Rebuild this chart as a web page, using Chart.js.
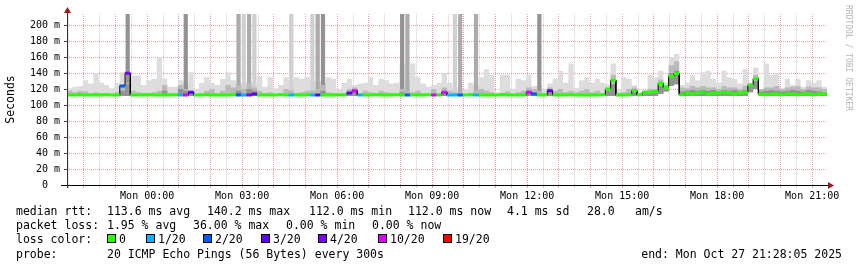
<!DOCTYPE html>
<html>
<head>
<meta charset="utf-8">
<script src="https://cdn.jsdelivr.net/npm/chart.js@4/dist/chart.umd.min.js"></script>
<style>
  html, body { margin: 0; padding: 0; background: #fff; }
  canvas { display: block; }
</style>
</head>
<body>
<canvas id="smoke_graph" width="857" height="267"></canvas>
<script>
// 24 hours of 10 minute bins, last one ending Mon Oct 27 21:28:05 2025
const START_MIN = 21 * 60 + 28 + 5 / 60;   // minutes after midnight (Sunday) of the first bin
const BIN_MIN = 10;

// median rtt per bin (ms)
const median = [
  112.5,112.5,113,112.5,112.5,112.5,112.5,113,112.5,112.5,124,140,
  112.5,112.5,112.5,113,112.5,112.5,112.5,112.5,113,112.5,112.5,116,
  112.5,112.5,113,112.5,112.5,112.5,112.5,113,112.5,112.5,112.5,114,
  112.5,112.5,112.5,112.5,113,112.5,112.5,112.5,112.5,113,112.5,112.5,
  112.5,112.5,112.5,113,112.5,115,118,112.5,112.5,112.5,113,112.5,
  112.5,112.5,113,112.5,112.5,112.5,112.5,112.5,113,112.5,112.5,116,
  112.5,112.5,112.5,112.5,113,112.5,112.5,112.5,112.5,112.5,113,112.5,
  112.5,112.5,112.5,116,114,112.5,112.5,118,112.5,112.5,112.5,113,
  112.5,112.5,112.5,112.5,112.5,113,120,131,112.5,112.5,113,118,
  113,116,116,117,127,122,136,139.5,113,115,114,115,
  116,114,115,115,116,115,114,115,116,125,133,114,
  113,114,114,113,114,114,113,114,114,113,114,114
];

// loss class per bin, index into lossLabels
const loss = [
  0,0,0,0,0,0,0,0,0,0,2,4,
  0,0,0,0,0,0,0,0,0,1,5,3,
  0,0,0,0,0,0,0,0,2,1,4,3,
  0,0,0,0,0,0,1,0,0,0,1,3,
  0,0,0,0,0,3,5,1,0,0,0,0,
  0,0,0,0,2,0,0,0,0,5,0,5,
  1,1,2,0,0,1,0,0,0,0,0,0,
  0,0,0,5,2,0,0,3,0,0,0,0,
  0,0,0,0,0,0,0,0,0,0,0,0,
  0,0,0,0,0,0,0,0,0,0,0,0,
  0,0,0,0,0,0,0,0,0,0,0,0,
  0,0,0,0,0,0,0,0,0,0,0,0
];

// fastest ping per bin (ms)
const pingMin = [
  111.5,111.5,111.5,111.5,111.5,111.5,111.5,111.5,111.5,111.5,111.5,111.5,
  111.5,111.5,111.5,111.5,111.5,111.5,111.5,111.5,111.5,111.5,111.5,111.5,
  111.5,111.5,111.5,111.5,111.5,111.5,111.5,111.5,111.5,111.5,111.5,111.5,
  111.5,111.5,111.5,111.5,111.5,111.5,111.5,111.5,111.5,111.5,111.5,111.5,
  111.5,111.5,111.5,111.5,111.5,111.5,111.5,111.5,111.5,111.5,111.5,111.5,
  111.5,111.5,111.5,111.5,111.5,111.5,111.5,111.5,111.5,111.5,111.5,111.5,
  111.5,111.5,111.5,111.5,111.5,111.5,111.5,111.5,111.5,111.5,111.5,111.5,
  111.5,111.5,111.5,111.5,111.5,111.5,111.5,111.5,111.5,111.5,111.5,111.5,
  111.5,111.5,111.5,111.5,111.5,111.5,111.5,111.5,111.5,111.5,111.5,111.5,
  111.5,111.5,111.5,111.5,114,117,124,126,111.5,111.5,111.5,111.5,
  111.5,111.5,111.5,111.5,111.5,111.5,111.5,111.5,111.5,116,120,111.5,
  111.5,111.5,111.5,111.5,111.5,111.5,111.5,111.5,111.5,111.5,111.5,111.5
];

// dense smoke (most pings below this, ms)
const smokeDark = [
  114,111.5,111.5,111.5,111.5,111.5,111.5,111.5,111.5,111.5,118,126,
  111.5,111.5,111.5,111.5,111.5,111.5,118,111.5,111.5,120,118,117,
  111.5,111.5,111.5,111.5,111.5,111.5,111.5,111.5,118,114,120,118,
  114,111.5,111.5,111.5,111.5,111.5,111.5,111.5,111.5,111.5,111.5,114,
  118,111.5,111.5,111.5,111.5,116,118,111.5,111.5,111.5,111.5,111.5,
  111.5,111.5,111.5,116,114,111.5,111.5,111.5,111.5,114,111.5,117,
  114,111.5,114,111.5,111.5,111.5,111.5,111.5,111.5,111.5,111.5,111.5,
  111.5,111.5,111.5,118,116,114,111.5,118,111.5,111.5,111.5,111.5,
  111.5,111.5,111.5,111.5,111.5,111.5,118,126,111.5,111.5,111.5,118,
  113,116,116,116,124,121,140,143,117,118,119,118,
  119,118,119,117,119,118,119,117,119,124,130,117,
  118,119,118,117,118,119,118,117,119,118,117,116
];

// middle smoke (ms)
const smokeMid = [
  118,116,118,117,115,116,115,115,114,116,125,128,
  118,116,115,115,116,118,125,115,114,125,120,118,
  114,115,118,120,115,118,125,122,125,120,128,122,
  118,115,116,114,115,120,118,115,116,118,118,120,
  125,116,115,114,115,120,122,115,118,116,115,118,
  116,115,115,120,118,116,118,115,114,120,115,122,
  118,116,116,114,115,118,120,118,116,114,115,117,
  114,116,118,122,120,118,115,122,118,120,116,118,
  116,118,120,116,118,115,122,138,115,116,120,122,
  115,118,120,120,132,125,150,155,122,121,124,122,
  124,122,122,120,124,122,122,120,124,127,138,120,
  122,122,124,120,122,123,124,120,123,122,122,120
];

// slowest ping per bin, off-scale pings listed below (ms)
const smokeTop = [
  121,123,124,131,127,140,128,125,121,128,141,133,
  137,137,125,131,133,160,133,123,123,131,128,141,
  120,128,135,128,125,133,141,131,128,127,128,125,
  137,123,135,121,125,135,130,135,133,135,130,130,
  130,135,133,120,128,133,125,127,128,135,125,133,
  131,127,128,150,130,152,135,127,123,125,128,140,
  128,122,122,120,128,125,135,145,138,116,138,138,
  120,133,131,138,124,125,120,127,133,143,128,152,
  121,131,135,128,133,128,126,152,120,135,133,125,
  116,118,138,135,143,128,160,164,125,128,138,131,
  141,143,133,128,143,135,133,127,145,128,147,120,
  152,138,140,121,133,125,133,123,131,128,131,123
];

// bins where 1, 2 or 3 pings went off the scale
const spikes1 = [33, 35, 42, 46, 73];
const spikes2 = [32, 34, 47, 64, 74, 77];
const spikes3 = [11, 22, 48, 63, 89];
const spikeRtt = 250;

const lossLabels = ['0', '1/20', '2/20', '3/20', '4/20', '10/20', '19/20'];
const lossColors = ['#26ff00', '#00b8ff', '#0059ff', '#5e00ff', '#7e00ff', '#dd00ff', '#ff0000'];

const yTicks = [0, 10, 20, 30, 40, 50, 60, 70, 80, 90, 100, 110, 120, 130, 140, 150, 160, 170, 180, 190, 200, 210];
const xLabelTimes = ['00:00', '03:00', '06:00', '09:00', '12:00', '15:00', '18:00', '21:00'];
const dayName = 'Mon';

const rttStats = ['113.6 ms avg', '140.2 ms max', '112.0 ms min', '112.0 ms now', '4.1 ms sd', '28.0', 'am/s'];
const lossStats = ['1.95 % avg', '36.00 % max', '0.00 % min', '0.00 % now'];
const probeText = '20 ICMP Echo Pings (56 Bytes) every 300s';
const endText = 'end: Mon Oct 27 21:28:05 2025';

const MONO = '"DejaVu Sans Mono"';
const RED_GRID = '#e4a2a2';
const GRAY_GRID = '#cdcdcd';

function steps(values) {
  const pts = [];
  values.forEach((v, i) => { pts.push({x: i, y: v}, {x: i + 1, y: v}); });
  return pts;
}

function lossSteps(k) {
  const pts = [];
  median.forEach((v, i) => {
    if (loss[i] === k) pts.push({x: i, y: v}, {x: i + 1, y: v}, {x: i + 1, y: null});
  });
  return pts;
}

function binToMinutes(v) {
  return Math.round(START_MIN + v * BIN_MIN);
}

function xTickValues() {
  const vals = [];
  for (let t = Math.ceil(START_MIN / 30) * 30; t <= START_MIN + median.length * BIN_MIN; t += 30) {
    vals.push((t - START_MIN) / BIN_MIN);
  }
  return vals;
}

function xLabel(v) {
  const t = binToMinutes(v);
  if (t < 1440) return '';
  const m = t % 1440;
  const s = String(Math.floor(m / 60)).padStart(2, '0') + ':' + String(m % 60).padStart(2, '0');
  return xLabelTimes.includes(s) ? dayName + ' ' + s : '';
}

// build datasets
const datasets = [];
lossColors.forEach((c, k) => {
  datasets.push({type: 'line', data: lossSteps(k), borderColor: c, borderWidth: 3,
    borderCapStyle: 'butt', pointRadius: 0, fill: false, order: 0});
});
datasets.push({type: 'line', data: steps(median), borderColor: '#000', borderWidth: 1,
  pointRadius: 0, fill: false, order: 1});

const floorIndex = datasets.length;
datasets.push({type: 'line', data: steps(pingMin), borderWidth: 0, borderColor: 'rgba(0,0,0,0)',
  pointRadius: 0, fill: false, order: 7});

datasets.push({type: 'line', data: steps(smokeDark), borderWidth: 0, pointRadius: 0,
  backgroundColor: '#939393', fill: {target: floorIndex}, order: 2});
datasets.push({type: 'line', data: steps(smokeMid), borderWidth: 0, pointRadius: 0,
  backgroundColor: '#bababa', fill: {target: floorIndex}, order: 3});

const spikeData = [];
const spikeColors = [];
[[spikes1, '#d0d0d0'], [spikes2, '#ababab'], [spikes3, '#939393']].forEach(([bins, col]) => {
  bins.forEach(b => {
    spikeData.push({x: b + 0.5, y: [pingMin[b], spikeRtt]});
    spikeColors.push(col);
  });
});
datasets.push({type: 'bar', data: spikeData, backgroundColor: spikeColors, borderWidth: 0,
  grouped: false, barPercentage: 0.8, categoryPercentage: 1, order: 4});

datasets.push({type: 'line', data: steps(smokeTop), borderWidth: 0, pointRadius: 0,
  backgroundColor: '#dddddd', fill: {target: floorIndex}, order: 5});

// axes, arrows, legend and the side text
const rrdDecor = {
  id: 'rrdDecor',
  afterDraw(chart) {
    const ctx = chart.ctx;
    const a = chart.chartArea;
    ctx.save();

    ctx.lineWidth = 1;
    ctx.strokeStyle = '#000';
    ctx.beginPath();
    ctx.moveTo(a.left - 6, a.bottom + 0.5);
    ctx.lineTo(a.right + 2, a.bottom + 0.5);
    ctx.stroke();
    ctx.strokeStyle = '#333';
    ctx.beginPath();
    ctx.moveTo(a.left + 0.5, a.bottom + 3);
    ctx.lineTo(a.left + 0.5, a.top - 3);
    ctx.stroke();

    ctx.fillStyle = '#a01818';
    ctx.beginPath();
    ctx.moveTo(a.right + 1, a.bottom - 3);
    ctx.lineTo(a.right + 7, a.bottom + 0.5);
    ctx.lineTo(a.right + 1, a.bottom + 4);
    ctx.closePath();
    ctx.fill();
    ctx.beginPath();
    ctx.moveTo(a.left - 3, a.top - 1);
    ctx.lineTo(a.left + 0.5, a.top - 7);
    ctx.lineTo(a.left + 4, a.top - 1);
    ctx.closePath();
    ctx.fill();

    // y axis title
    ctx.fillStyle = '#000';
    ctx.font = '11.5px ' + MONO;
    ctx.save();
    ctx.translate(11, (a.top + a.bottom) / 2);
    ctx.rotate(-Math.PI / 2);
    ctx.textAlign = 'center';
    ctx.textBaseline = 'middle';
    ctx.fillText('Seconds', 0, 0);
    ctx.restore();

    // watermark
    ctx.save();
    ctx.translate(848, 5);
    ctx.rotate(Math.PI / 2);
    ctx.font = '8px ' + MONO;
    ctx.fillStyle = '#b4b4b4';
    ctx.textAlign = 'left';
    ctx.textBaseline = 'middle';
    ctx.fillText('RRDTOOL / TOBI OETIKER', 0, 0);
    ctx.restore();

    // legend lines
    ctx.font = '11.5px ' + MONO;
    ctx.textAlign = 'left';
    ctx.textBaseline = 'alphabetic';
    ctx.fillStyle = '#000';
    const rttX = [107, 207, 309, 408, 507, 587, 635];
    ctx.fillText('median rtt:', 16, 215);
    rttStats.forEach((s, i) => ctx.fillText(s, rttX[i], 215));
    const lossX = [107, 193, 286, 372];
    ctx.fillText('packet loss:', 16, 229);
    lossStats.forEach((s, i) => ctx.fillText(s, lossX[i], 229));
    ctx.fillText('loss color:', 16, 243);
    const boxX = [107, 146, 203, 261, 318, 378, 443];
    lossLabels.forEach((lab, k) => {
      ctx.fillStyle = lossColors[k];
      ctx.fillRect(boxX[k], 235, 8, 8);
      ctx.strokeStyle = '#000';
      ctx.strokeRect(boxX[k] + 0.5, 234.5, 8, 8);
      ctx.fillStyle = '#000';
      ctx.fillText(lab, boxX[k] + 12, 243);
    });
    ctx.fillText('probe:', 16, 257.5);
    ctx.fillText(probeText, 107, 257.5);
    ctx.textAlign = 'right';
    ctx.fillText(endText, 842, 257.5);

    ctx.restore();
  }
};

Chart.defaults.font.family = MONO;

new Chart(document.getElementById('smoke_graph').getContext('2d'), {
  type: 'line',
  data: {datasets: datasets},
  options: {
    responsive: false,
    animation: false,
    layout: {padding: {left: 0, right: 30, top: 14, bottom: 0}},
    plugins: {legend: {display: false}, tooltip: {enabled: false}},
    scales: {
      x: {
        type: 'linear',
        bounds: 'data',
        offset: false,
        min: 0,
        max: median.length,
        afterBuildTicks: s => { s.ticks = xTickValues().map(v => ({value: v})); },
        afterFit: s => { s.height = 82; },
        grid: {
          offset: false,
          color: c => (c.tick && binToMinutes(c.tick.value) % 60 === 0) ? RED_GRID : GRAY_GRID,
          lineWidth: 1,
          tickLength: 3
        },
        border: {display: false, dash: [1, 1]},
        ticks: {autoSkip: false, maxRotation: 0, minRotation: 0, padding: 2,
          font: {size: 10}, color: '#000', callback: v => xLabel(v)}
      },
      y: {
        type: 'linear',
        bounds: 'data',
        min: 0,
        max: 214,
        afterBuildTicks: s => { s.ticks = yTicks.map(v => ({value: v})); },
        afterFit: s => { s.width = 67; },
        grid: {
          color: c => (c.tick && c.tick.value % 20 === 0) ? RED_GRID : GRAY_GRID,
          lineWidth: 1,
          tickLength: 3,
          tickColor: '#444'
        },
        border: {display: false, dash: [1, 1]},
        ticks: {padding: 4, font: {size: 10}, color: '#000',
          callback: v => v % 20 !== 0 ? '' : (v === 0 ? '0  ' : v + ' m')}
      }
    }
  },
  plugins: [rrdDecor]
});
</script>
</body>
</html>
